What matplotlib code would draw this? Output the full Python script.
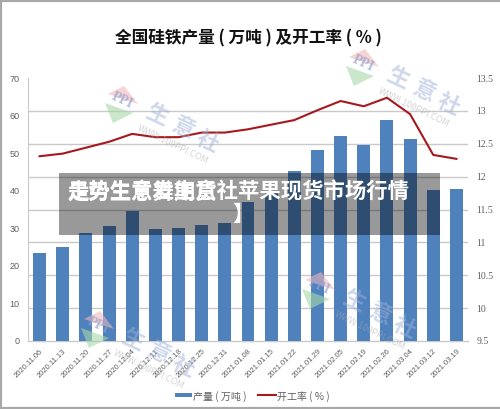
import matplotlib
matplotlib.use("Agg")
import matplotlib.pyplot as plt
from matplotlib.patches import Polygon, Rectangle
from matplotlib.lines import Line2D

plt.rcParams["font.family"] = ["Noto Sans CJK SC", "DejaVu Sans"]

W, H = 500, 409

dates = ["2020.11.06", "2020.11.13", "2020.11.20", "2020.11.27", "2020.12.04",
         "2020.12.11", "2020.12.18", "2020.12.25", "2020.12.31", "2021.01.08",
         "2021.01.15", "2021.01.22", "2021.01.29", "2021.02.05", "2021.02.19",
         "2021.02.26", "2021.03.04", "2021.03.12", "2021.03.19"]
output = [23.3, 25.0, 28.8, 30.5, 34.5, 29.7, 30.0, 31.0, 31.3, 37.0,
          40.0, 45.2, 50.8, 54.5, 52.2, 58.8, 53.8, 40.2, 40.5]
rate = [12.31, 12.35, 12.44, 12.53, 12.65, 12.60, 12.60, 12.67, 12.67, 12.72,
        12.79, 12.86, 13.01, 13.15, 13.07, 13.20, 12.95, 12.33, 12.27]
left_ticks = [0, 10, 20, 30, 40, 50, 60, 70]
right_ticks = [9.5, 10, 10.5, 11, 11.5, 12, 12.5, 13, 13.5]
right_labels = ["9.5", "10", "10.5", "11", "11.5", "12", "12.5", "13", "13.5"]

BAR = "#4f81bd"
LINE = "#a5191f"
GRID = "#c9c9c9"
TEXT = "#5f5f5f"


def fx(px):
    return px / W


def fy(py):
    return 1 - py / H


def watermark(fig, dx, dy):
    # logo and 生意社 stamp, offsets are from the first stamp in pixels
    tris = [([(108, 94), (124, 86), (138, 104)], "#f2b8b8"),
            ([(105, 103), (133, 113), (113, 123)], "#a9d8a9")]
    for pts, col in tris:
        fig.add_artist(Polygon([(fx(x + dx), fy(y + dy)) for x, y in pts],
                               closed=True, transform=fig.transFigure,
                               fc=col, ec="none", alpha=0.6, zorder=5))
    fig.text(fx(122 + dx), fy(101 + dy), "PPI", color="#8f9fd0", alpha=0.7, fontsize=10,
             family="Liberation Serif", weight="bold", rotation=-25,
             ha="center", va="center", zorder=6)
    for (x, y), ch in zip([(157, 115), (183, 128), (207, 142)], "生意社"):
        fig.text(fx(x + dx), fy(y + dy), ch, color="#9fb2d8", alpha=0.5, fontsize=16,
                 weight="bold", rotation=-25, ha="center", va="center", zorder=6)
    fig.text(fx(173 + dx), fy(145 + dy), "WWW.100PPI.COM", color="#aaaaaa", alpha=0.5,
             fontsize=6.5, rotation=-26, ha="center", va="center", zorder=6)


fig = plt.figure(figsize=(W / 100, H / 100), dpi=100, facecolor="white")
ax = fig.add_axes([fx(28), fy(341), fx(440), (341 - 78) / H])

x = list(range(len(dates)))
ax.bar(x, output, width=0.56, color=BAR, zorder=3)
ax.set_xlim(-0.5, len(dates) - 0.5)
ax.set_ylim(0, 70)
ax.set_yticks(left_ticks)
ax.set_xticks(x)
ax.set_xticklabels(dates, rotation=45, ha="right", rotation_mode="anchor",
                   fontsize=5.5, color=TEXT, family="Liberation Sans")
ax.tick_params(axis="x", length=0, pad=5)
ax.tick_params(axis="y", length=0, pad=6, labelsize=6.5, labelcolor=TEXT)
for lab in ax.get_yticklabels():
    lab.set_family("Liberation Sans")

# gridlines belong to the right axis scale but have to stay behind the bars
grid_pos = [(r - right_ticks[0]) / (right_ticks[-1] - right_ticks[0]) * 70 for r in right_ticks]
ax.set_yticks(grid_pos, minor=True)
ax.tick_params(axis="y", which="minor", length=0)
ax.grid(True, axis="y", which="minor", color=GRID, lw=1, zorder=0)
ax.set_axisbelow(True)
for side in ["top", "right"]:
    ax.spines[side].set_visible(False)
ax.spines["left"].set_color(GRID)
ax.spines["bottom"].set_color(GRID)
ax.spines["bottom"].set_linewidth(1)

ax2 = ax.twinx()
ax2.plot(x, rate, color=LINE, lw=1.5, zorder=4)
ax2.set_ylim(right_ticks[0], right_ticks[-1])
ax2.set_yticks(right_ticks)
ax2.set_yticklabels(right_labels, fontsize=7, color=TEXT, family="Liberation Serif")
ax2.tick_params(axis="y", length=0, pad=6)
for side in ax2.spines:
    ax2.spines[side].set_visible(False)

fig.text(fx(248), fy(38), "全国硅铁产量 ( 万吨 ) 及开工率 ( % )", fontsize=12, weight="bold",
         color="#111111", ha="center", va="center")

# legend is laid out by hand, entries sit far apart
fig.add_artist(Rectangle((fx(175), fy(397)), fx(17), 4 / H, transform=fig.transFigure,
                         fc=BAR, ec="none"))
fig.text(fx(193), fy(397), "产量 ( 万吨 )", fontsize=7.2, color=TEXT, va="center")
fig.add_artist(Line2D([fx(258), fx(276)], [fy(395), fy(395)], color=LINE, lw=1.5,
                      transform=fig.transFigure))
fig.text(fx(277), fy(397), "开工率 ( % )", fontsize=7.2, color=TEXT, va="center")

for dx, dy in [(0, 0), (241, -37), (-24, 225), (197, 186)]:
    watermark(fig, dx, dy)

# dark caption band with the two overlapping headlines
fig.add_artist(Rectangle((fx(59), fy(235)), fx(381), 62 / H, transform=fig.transFigure,
                         fc="black", ec="none", alpha=0.4, zorder=7))
fig.text(fx(68), fy(192), "走势生意发生意社苹果现货市场行情", fontsize=15.4, weight="bold",
         color="white", ha="left", va="center", zorder=8)
fig.text(fx(68), fy(192), "是势生意舞期货", fontsize=15.4, weight="bold",
         color="white", ha="left", va="center", zorder=8)
fig.text(fx(243), fy(214), "】", fontsize=15.4, weight="bold",
         color="white", ha="center", va="center", zorder=8)

# grey frame of the screenshot
for xs, ys in [([0, 0], [0, 1]), ([0, 1], [1, 1]), ([0, 1], [0, 0])]:
    fig.add_artist(Line2D(xs, ys, color="#a8a8a8", lw=3, transform=fig.transFigure, zorder=9))

fig.savefig("out.png", dpi=100)
